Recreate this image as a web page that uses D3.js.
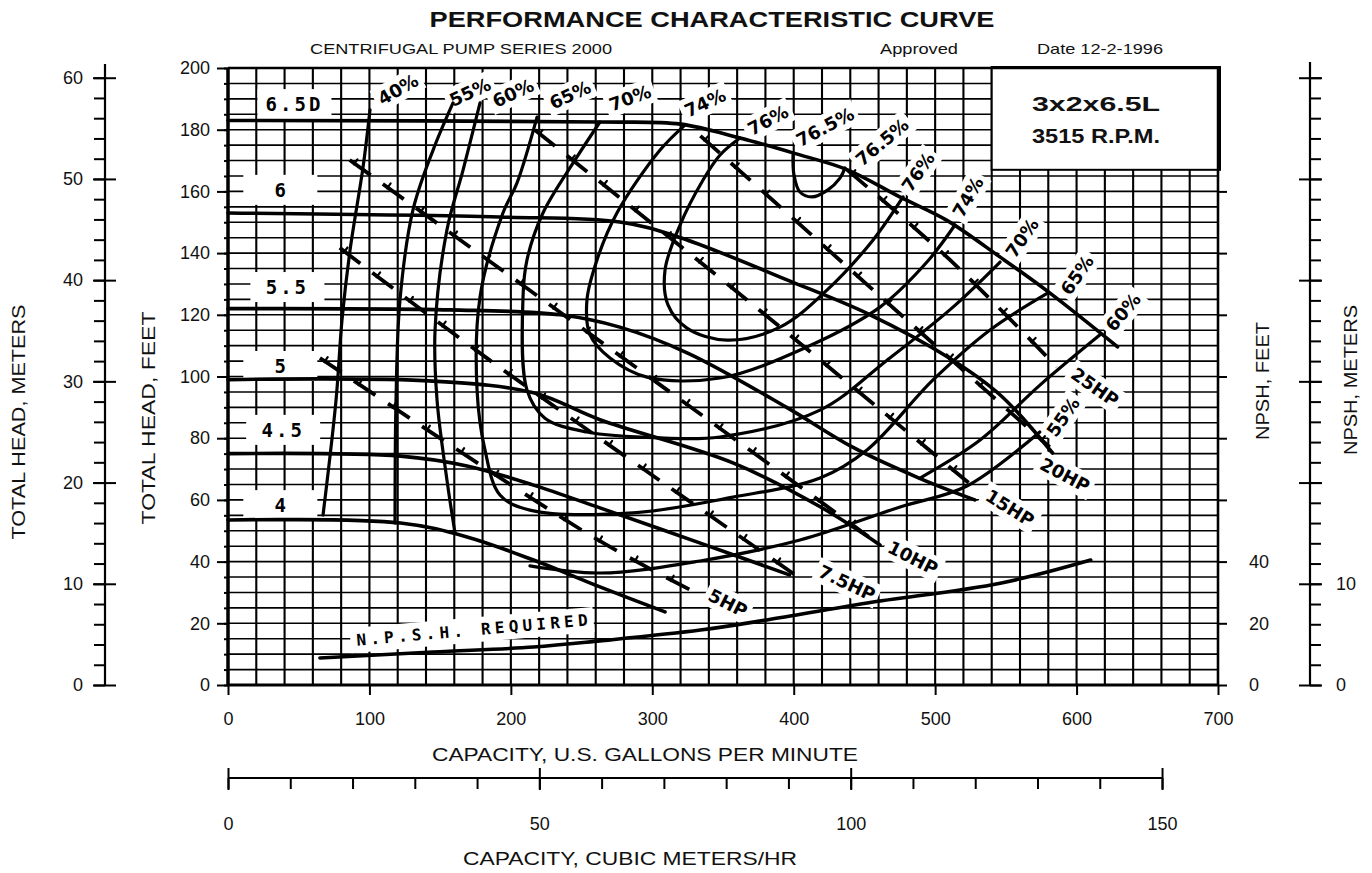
<!DOCTYPE html>
<html><head><meta charset="utf-8">
<script src="https://cdn.jsdelivr.net/npm/d3@7"></script>
<style>
html,body{margin:0;padding:0;background:#fff;}
svg{display:block;}
text{font-family:"Liberation Sans",Arial,sans-serif;fill:#111;}
.hand{font-family:"DejaVu Sans",sans-serif;font-weight:bold;fill:#000;}
.mono{font-family:"DejaVu Sans Mono",monospace;font-weight:bold;fill:#000;}
</style></head><body>
<svg id="chart" width="1372" height="873"></svg>
<script>
// ---------- tick values ----------
const gpmTicks = [0,100,200,300,400,500,600,700];
const headFtTicks = [0,20,40,60,80,100,120,140,160,180,200];
const headMTicks = [0,10,20,30,40,50,60];
const npshFtTicks = [0,20,40];
const npshMTicks = [0,10];
const cmhTicks = [0,50,100,150];

// ---------- head-capacity curves [gpm, ft] ----------
const impellerNames = ["6.5D","6","5.5","5","4.5","4"];
const head65D = [[0,183],[263,182.5],[320,181.8],[362,177.3],[400,172.4],[438,167],[475,158.2],[508,150.7],[546,138.7],[581,127.1],[629,109.6]];
const head6   = [[0,153],[192,151.7],[277,150.1],[320,145],[397,131],[454,120],[510,106],[546,94],[583,75.2]];
const head55  = [[0,122],[157,121.6],[235,120],[277,116],[325,107.6],[395,90],[442,77],[489,67],[528,60]];
const head5   = [[0,99],[145,98.5],[216,94.7],[263,86],[357,72],[419,57.7],[461,45.4]];
const head45  = [[0,75],[122,74.2],[169,71],[216,64.8],[263,57.4],[334,46],[397,35.7]];
const head4   = [[0,53.5],[122,52.5],[169,48],[216,40.5],[263,31.8],[309,23.7]];

// ---------- efficiency contours [gpm, ft] ----------
const eff40      = [[100.4,186.4],[95.5,167.9],[86.3,141],[80.6,118.3],[76.4,92.4],[67.2,55.1]];
const eff55Left  = [[159.1,188.7],[145,173.4],[130.8,154],[121.6,124.8],[118.8,92.4],[118.1,52.5]];
const eff55Right = [[213.5,38.6],[263,36.3],[333.7,40.2],[404.4,47],[475.2,57.7],[522.5,64.5],[574,82]];
const eff60Left  = [[178.2,188.7],[166.2,166.9],[154.8,147.5],[146.4,115.1],[147.8,92.4],[154.8,66.5],[160.5,49.3]];
const eff60Right = [[489,67],[531.8,79.4],[574.1,97.2],[616.6,113.5]];
const eff65 = [[218.5,184.1],[204.3,162.7],[194.4,153],[178.2,125.8],[176.1,95.6],[181.7,76.2],[192.3,61.6],[213.5,56.7],[286.4,55.8],[357.1,60.9],[418.6,67.1],[451.8,76.2],[498.5,98.9],[538.8,115.1],[579.8,127.1]];
const eff70 = [[263,182.5],[245.4,170.2],[222.7,153],[211.4,137.8],[208.6,125.8],[211.4,95.6],[224.1,86.5],[253.8,82],[305.5,80.1],[347.9,80.4],[418.6,89.1],[466,105.3],[512.6,122.5],[545.9,137.1]];
const eff74 = [[323.1,181.5],[305.5,173.4],[275,153],[260.9,137.8],[253.8,124.8],[256,113.5],[270.1,106],[296.3,99.8],[347.9,99.5],[409.4,109.6],[461,122.5],[494.2,137.1],[514,149.1]];
const eff76 = [[362,177.3],[347.9,171.8],[335.9,163.7],[319.6,149.1],[309,134.5],[311.1,123.2],[324.5,115.7],[352.8,111.8],[390.3,116],[423.5,128],[456,144.2],[477.3,158.2]];
const eff765 = [[399.5,171.8],[400.2,165.3],[404.4,159.8],[412.9,158.2],[424.2,160.5],[432.7,164.3],[436.3,167.6]];

// ---------- brake horsepower lines [gpm, ft] ----------
const hp5  = [[65,106],[258,48],[327,30.8]];
const hp75 = [[79,141.7],[185,105.3],[401,35.7]];
const hp10 = [[86,170.2],[298,99.8],[461,45.4]];
const hp15 = [[217,179.9],[367,124.8],[528,63.9]];
const hp20 = [[334,178],[385,157.2],[513,104.8],[581,77.1]];
const hp25 = [[438,166.9],[510.5,137.8],[586,103.1]];

// ---------- NPSH required [gpm, ft] ----------
const npshReq = [[65,8.75],[145,10.7],[216,12.3],[263,14.3],[334,17.8],[381,21.1],[452,26.6],[546,33],[610,40.5]];

// ---------- label texts and anchors [gpm, ft] ----------
const impellerAnchors = [[47,188.3],[37,160.5],[42,129],[37,103.4],[39,82.7],[37,58.3]];
const effLabelText   = ["40%","55%","60%","65%","70%","74%","76%","76.5%","76.5%","76%","74%","70%","65%","60%","55%"];
const effLabelAnchor = [[120.2,193.1],[171.1,192.2],[201.5,191.9],[241.8,191.3],[284.2,190.3],[337.3,188.7],[381.8,183.1],[422.1,180.9],[462.4,176],[487.9,166.3],[523.2,158.2],[561.4,144.9],[600.3,132.9],[632.8,120.9],[590.4,86.9]];
const effLabelAngle  = [-30,-25,-25,-25,-20,-25,-28,-28,-40,-55,-60,-55,-55,-50,-55];
const hpLabelText    = ["25HP","20HP","15HP","10HP","7.5HP","5HP"];
const hpLabelAnchor  = [[613,96.6],[591.8,68.1],[552.9,57.4],[484.3,41.2],[437.7,33.1],[353.5,26.6]];
const hpLabelAngle   = [35,28,32,27,25,27];

// ---------- scales ----------
const FT_PER_M = 3.28084, GPM_PER_CMH = 4.402868;
const x = d3.scaleLinear().domain([0,700]).range([228,1218]);
const y = d3.scaleLinear().domain([0,200]).range([685,68]);
const mScale = d3.scaleLinear().domain([0,60]).range([y(0), y(60*FT_PER_M)]);
const cmhScale = d3.scaleLinear().domain([0,150]).range([x(0), x(150*GPM_PER_CMH)]);

const svg = d3.select("#chart");
svg.append("rect").attr("width",1372).attr("height",873).attr("fill","#fff");

// ---------- grid ----------
const grid = svg.append("g").attr("stroke","#000");
d3.range(0,701,20).forEach(v => grid.append("line")
  .attr("x1",x(v)).attr("x2",x(v)).attr("y1",y(0)).attr("y2",y(200)).attr("stroke-width",2.1));
d3.range(0,201,5).forEach(v => grid.append("line")
  .attr("x1",x(0)).attr("x2",x(700)).attr("y1",y(v)).attr("y2",y(v)).attr("stroke-width",1.6));

// layers
const boxLayer = svg.append("g");
const curveLayer = svg.append("g").attr("fill","none").attr("stroke","#000")
  .attr("stroke-linecap","round").attr("stroke-linejoin","round");
const textLayer = svg.append("g");

// info box (top right)
boxLayer.append("rect").attr("x",x(540)).attr("y",y(200)-1).attr("width",x(700)-x(540)+2).attr("height",y(167)-y(200)+1)
  .attr("fill","#fff").attr("stroke","#000").attr("stroke-width",2);

function addLabel(text, anchor, angle, cls, size, padX, padY, minW, extra){
  const tr = `translate(${x(anchor[0])},${y(anchor[1])}) rotate(${angle})`;
  const gb = boxLayer.append("g").attr("transform",tr);
  const gt = textLayer.append("g").attr("transform",tr);
  const t = gt.append("text").attr("class",cls).attr("text-anchor","middle")
    .attr("dominant-baseline","central").style("font-size",size+"px").text(text);
  if(extra) extra(t);
  const bb = t.node().getBBox();
  const w = Math.max(bb.width+2*padX, minW||0);
  gb.append("rect").attr("x",bb.x+bb.width/2-w/2).attr("y",bb.y-padY)
    .attr("width",w).attr("height",bb.height+2*padY).attr("fill","#fff");
}

impellerNames.forEach((n,i)=> addLabel(n, impellerAnchors[i], 0, "mono", 19, 8, 4, 74,
  t=>t.style("letter-spacing", n.length>1 ? "3px" : "0px")));
effLabelText.forEach((t,i)=> addLabel(t, effLabelAnchor[i], effLabelAngle[i], "hand", 18, 4, 2, 0));
hpLabelText.forEach((t,i)=> addLabel(t, hpLabelAnchor[i], hpLabelAngle[i], "hand", 18, 4, 2, 0));
addLabel("N.P.S.H. REQUIRED", [172.5,17.8], -5, "mono", 16, 6, 3, 0, t=>t.attr("textLength",232));

// ---------- curves ----------
const smooth = d3.line().x(d=>x(d[0])).y(d=>y(d[1])).curve(d3.curveCatmullRom.alpha(0.5));
[head65D, head6, head55, head5, head45, head4].forEach(c =>
  curveLayer.append("path").attr("d",smooth(c)).attr("stroke-width",3.6));
[eff40, eff55Left, eff55Right, eff60Left, eff60Right, eff65, eff70, eff74, eff76, eff765].forEach(c =>
  curveLayer.append("path").attr("d",smooth(c)).attr("stroke-width",3.2));
curveLayer.append("path").attr("d",smooth(npshReq)).attr("stroke-width",3.6);

[hp5, hp75, hp10, hp15, hp20, hp25].forEach(c => {
  const p = curveLayer.append("path").attr("d",smooth(c)).attr("stroke-width",3.8)
    .attr("stroke-dasharray","26,15").attr("stroke-linecap","butt");
  const node = p.node(), L = node.getTotalLength();
  for(let s=0; s+6<L; s+=41){
    const a = node.getPointAtLength(s+6), b = node.getPointAtLength(Math.min(s+7,L));
    const ang = Math.atan2(b.y-a.y, b.x-a.x), nx = -Math.sin(ang), ny = Math.cos(ang);
    curveLayer.append("line").attr("x1",a.x-nx*5).attr("y1",a.y-ny*5)
      .attr("x2",a.x+nx*1).attr("y2",a.y+ny*1).attr("stroke-width",2.2);
  }
});

// ---------- frame ----------
const frame = svg.append("g").attr("stroke","#000");
frame.append("line").attr("x1",x(0)).attr("x2",x(0)).attr("y1",y(0)).attr("y2",y(200)).attr("stroke-width",3.5);
frame.append("line").attr("x1",x(0)).attr("x2",x(700)).attr("y1",y(0)).attr("y2",y(0)).attr("stroke-width",3);
frame.append("line").attr("x1",x(700)).attr("x2",x(700)).attr("y1",y(0)).attr("y2",y(200)).attr("stroke-width",2.5);
frame.append("line").attr("x1",x(0)).attr("x2",x(700)).attr("y1",y(200)).attr("y2",y(200)).attr("stroke-width",2.5);

function styleAxis(g, size){
  g.selectAll("path.domain").remove();
  g.selectAll("line").attr("stroke","#000").attr("stroke-width",2);
  g.selectAll("text").style("font-family","'Liberation Sans',Arial,sans-serif").style("font-size",size+"px").attr("fill","#111");
}

// bottom gpm axis
const gB = svg.append("g").attr("transform",`translate(0,${y(0)})`)
  .call(d3.axisBottom(x).tickValues(gpmTicks).tickSize(10).tickPadding(17).tickFormat(d3.format("d")));
styleAxis(gB,18);

// left feet axis
const gL = svg.append("g").attr("transform",`translate(${x(0)},0)`)
  .call(d3.axisLeft(y).tickValues(headFtTicks).tickSize(11).tickPadding(7));
styleAxis(gL,18);
const gLm = svg.append("g").attr("transform",`translate(${x(0)},0)`)
  .call(d3.axisLeft(y).tickValues(d3.range(0,201,5)).tickSize(4).tickFormat(""));
styleAxis(gLm,18);

// left meters axis
const mX = 105;
const gM = svg.append("g").attr("transform",`translate(${mX},0)`)
  .call(d3.axisLeft(mScale).tickValues(headMTicks).tickSize(12).tickPadding(10));
styleAxis(gM,18);
const gMm = svg.append("g").attr("transform",`translate(${mX},0)`)
  .call(d3.axisLeft(mScale).tickValues(d3.range(0,61,2)).tickSize(11).tickFormat(""));
styleAxis(gMm,18);
const gMr = svg.append("g").attr("transform",`translate(${mX},0)`)
  .call(d3.axisRight(mScale).tickValues(headMTicks).tickSize(11).tickFormat(""));
styleAxis(gMr,18);
svg.append("line").attr("x1",mX).attr("x2",mX).attr("y1",y(0)).attr("y2",y(200)-4).attr("stroke","#000").attr("stroke-width",2.2);

// right NPSH feet axis
const gR = svg.append("g").attr("transform",`translate(${x(700)},0)`)
  .call(d3.axisRight(y).tickValues(d3.range(0,161,20)).tickSize(9).tickPadding(22)
    .tickFormat(d => npshFtTicks.includes(d) ? d : ""));
styleAxis(gR,18);

// right NPSH meters axis
const nX = 1310;
const gN = svg.append("g").attr("transform",`translate(${nX},0)`)
  .call(d3.axisRight(mScale).tickValues(headMTicks).tickSize(12).tickPadding(14)
    .tickFormat(d => npshMTicks.includes(d) ? d : ""));
styleAxis(gN,18);
const gNm = svg.append("g").attr("transform",`translate(${nX},0)`)
  .call(d3.axisRight(mScale).tickValues(d3.range(0,61,2)).tickSize(11).tickFormat(""));
styleAxis(gNm,18);
const gNl = svg.append("g").attr("transform",`translate(${nX},0)`)
  .call(d3.axisLeft(mScale).tickValues(headMTicks).tickSize(11).tickFormat(""));
styleAxis(gNl,18);
svg.append("line").attr("x1",nX).attr("x2",nX).attr("y1",y(0)).attr("y2",y(200)-6).attr("stroke","#000").attr("stroke-width",2.2);

// cubic meters axis
const cY = 778;
const gC = svg.append("g").attr("transform",`translate(0,${cY})`)
  .call(d3.axisBottom(cmhScale).tickValues(cmhTicks).tickSize(12).tickPadding(27));
styleAxis(gC,18);
const gCm = svg.append("g").attr("transform",`translate(0,${cY})`)
  .call(d3.axisBottom(cmhScale).tickValues(d3.range(0,151,10)).tickSize(11).tickFormat(""));
styleAxis(gCm,18);
const gCu = svg.append("g").attr("transform",`translate(0,${cY})`)
  .call(d3.axisTop(cmhScale).tickValues(cmhTicks).tickSize(10).tickFormat(""));
styleAxis(gCu,18);
svg.append("line").attr("x1",cmhScale(0)).attr("x2",cmhScale(150)).attr("y1",cY).attr("y2",cY).attr("stroke","#000").attr("stroke-width",2);

// ---------- titles ----------
function txt(s, px, py, size, opts){
  const t = svg.append("text").attr("x",px).attr("y",py).style("font-size",size+"px").text(s);
  if(opts.anchor) t.attr("text-anchor",opts.anchor);
  if(opts.bold) t.style("font-weight","bold");
  if(opts.len) t.attr("textLength",opts.len).attr("lengthAdjust","spacingAndGlyphs");
  if(opts.rot) t.attr("transform",`rotate(${opts.rot},${px},${py})`);
  return t;
}
txt("PERFORMANCE CHARACTERISTIC CURVE", 712, 27, 22, {anchor:"middle", bold:true, len:565});
txt("CENTRIFUGAL PUMP SERIES 2000", 310, 54, 15, {len:302});
txt("Approved", 880, 54, 15, {len:78});
txt("Date 12-2-1996", 1037, 54, 15, {len:126});
txt("3x2x6.5L", 1096, 111, 21, {anchor:"middle", bold:true, len:128});
txt("3515 R.P.M.", 1096, 143, 21, {anchor:"middle", bold:true, len:128});
txt("CAPACITY, U.S. GALLONS PER MINUTE", 645, 761, 19, {anchor:"middle", len:426});
txt("CAPACITY, CUBIC METERS/HR", 630, 865, 19, {anchor:"middle", len:334});
txt("TOTAL HEAD, METERS", 25, 422, 19, {anchor:"middle", len:235, rot:-90});
txt("TOTAL HEAD, FEET", 155, 418, 19, {anchor:"middle", len:213, rot:-90});
txt("NPSH, FEET", 1269, 381, 19, {anchor:"middle", len:118, rot:-90});
txt("NPSH, METERS", 1357, 380, 19, {anchor:"middle", len:150, rot:-90});
</script></body></html>
